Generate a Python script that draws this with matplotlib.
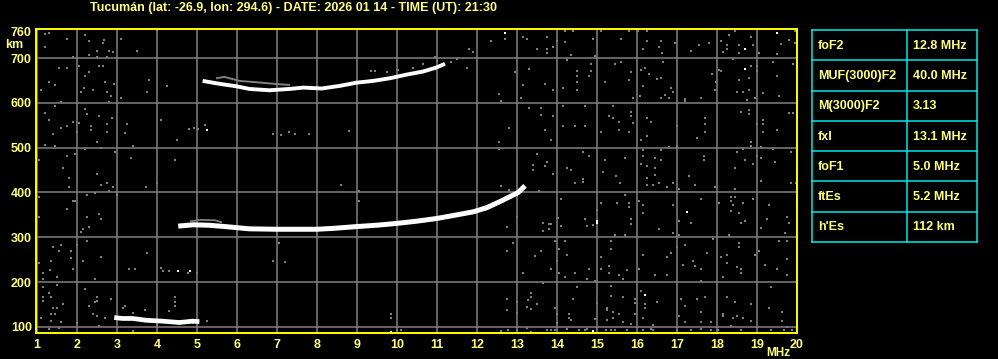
import numpy as np
import matplotlib
matplotlib.use("Agg")
import matplotlib.pyplot as plt

# ---- ionogram data (frequency in MHz, virtual height in km) ----
title = "Tucumán (lat: -26.9, lon: 294.6) - DATE: 2026 01 14 - TIME (UT): 21:30"

# F trace (1st hop)
f1_freq = [4.53, 4.9, 5.3, 5.83, 6.3, 6.99, 7.5, 8.0, 8.41, 8.99, 9.49, 9.99, 10.49,
           10.99, 11.49, 11.91, 12.24, 12.58, 12.83, 13.03, 13.2]
f1_height = [325, 328, 327, 323, 319, 318, 318, 318, 320, 324, 327, 331, 336,
             342, 350, 357, 366, 380, 391, 400, 415]
# thin echo above the start of the F trace
f1x_freq = [4.85, 5.1, 5.45, 5.6]
f1x_height = [336, 339, 338, 334]

# F trace (2nd hop)
f2_freq = [5.14, 5.52, 5.98, 6.31, 6.81, 7.31, 7.66, 8.12, 8.58, 8.99, 9.41, 9.83,
           10.24, 10.66, 10.99, 11.2]
f2_height = [649, 643, 637, 631, 628, 631, 634, 632, 638, 645, 649, 655,
             663, 670, 679, 687]
f2x_freq = [5.5, 5.68, 6.06, 6.48, 6.98, 7.3]
f2x_height = [655, 658, 649, 646, 642, 640]

# sporadic E
es_freq = [2.93, 3.14, 3.39, 3.73, 4.14, 4.56, 4.89, 5.06]
es_height = [121, 119, 119, 115, 113, 110, 113, 112]

# short echo pieces near 225 km and 540 km
es2_freq = [4.1, 4.14, 4.31, 4.77]
es2_height = [232, 226, 225, 221]
blob_freq = [4.81, 4.93, 5.03, 5.2]
blob_height = [542, 544, 542, 551]

# scattered noise (gray)
noise_a = [(1.20, 753), (1.29, 756), (2.20, 751), (1.75, 742), (2.29, 738), (2.68, 740),
           (2.64, 733), (3.10, 742), (1.20, 725), (2.49, 716), (2.79, 716), (2.89, 713),
           (2.29, 707), (1.89, 702), (2.50, 702), (2.74, 702), (3.50, 716), (1.54, 678),
           (1.75, 678), (2.04, 682), (2.54, 682), (2.64, 682), (2.29, 669), (2.20, 660),
           (1.31, 646), (1.44, 640), (2.70, 646), (2.92, 642), (3.79, 651), (4.25, 638),
           (1.10, 629), (2.17, 633), (2.39, 629), (2.10, 624), (2.74, 624), (2.85, 615),
           (3.75, 624), (3.10, 611), (1.60, 602), (2.81, 602), (1.44, 593), (2.20, 586),
           (1.20, 577), (2.24, 575), (2.54, 571), (2.88, 566), (1.29, 562), (2.04, 555),
           (1.89, 557), (2.35, 548), (2.74, 553), (3.25, 553), (1.60, 544), (1.75, 548),
           (2.35, 539), (3.20, 533), (2.74, 535), (1.39, 531), (2.00, 535), (4.10, 562),
           (4.49, 517), (2.50, 513), (1.20, 506), (1.45, 504), (2.20, 497), (2.60, 499),
           (2.95, 490), (3.39, 504), (1.96, 486), (1.75, 481), (1.04, 473), (3.35, 477),
           (4.45, 473), (1.64, 455), (2.50, 441), (1.79, 432), (6.91, 531), (7.10, 528),
           (7.31, 535), (4.0, 762)]
noise_b = [(12.34, 738), (12.70, 742), (13.14, 747), (13.26, 742), (13.49, 720),
           (11.80, 720), (11.89, 714), (12.95, 668), (13.30, 676), (13.14, 640),
           (12.55, 620), (13.09, 611), (12.60, 603), (13.30, 589), (13.60, 589),
           (13.59, 573), (12.80, 544), (7.45, 531), (7.80, 531), (8.80, 538),
           (12.55, 512), (12.55, 497), (13.49, 486), (13.39, 461), (13.39, 450),
           (9.34, 672), (9.45, 670), (9.76, 668), (10.03, 674), (10.39, 678),
           (10.66, 687), (10.95, 702), (10.99, 693), (11.35, 690), (11.49, 698), (11.74, 678)]
noise_c = [(13.74, 747), (14.20, 760), (14.40, 760), (13.99, 738), (14.20, 736), (13.74, 720),
           (13.90, 725), (13.74, 711), (14.34, 707), (14.94, 705), (14.90, 742), (15.61, 742),
           (15.09, 760), (15.80, 760), (16.03, 760), (16.24, 760), (16.24, 738), (16.59, 738),
           (16.55, 725), (16.63, 711), (16.15, 720), (16.95, 734), (17.34, 716), (17.55, 729),
           (17.80, 734), (18.09, 738), (18.30, 751), (18.44, 760), (18.24, 729), (18.24, 720),
           (18.55, 728), (18.84, 747), (18.90, 729), (18.55, 711), (18.16, 714), (19.05, 711),
           (19.49, 709), (19.59, 731), (19.80, 740), (19.95, 734), (19.94, 760),
           (14.24, 696), (14.84, 687), (14.51, 672), (14.84, 670), (14.49, 660), (14.80, 660),
           (14.49, 647), (14.14, 633), (14.49, 629), (13.90, 629), (13.70, 642), (15.44, 687),
           (15.59, 691), (15.84, 669), (15.80, 651), (15.20, 647), (15.90, 611), (16.09, 673),
           (16.19, 678), (16.30, 664), (16.49, 653), (16.59, 655), (16.65, 691), (16.15, 638),
           (16.84, 633), (16.90, 624), (16.70, 618), (16.59, 611), (16.80, 611), (16.08, 616),
           (17.19, 609), (17.19, 603), (17.59, 611), (17.94, 629), (17.98, 646), (17.88, 664),
           (18.09, 670), (18.05, 674), (18.40, 698), (18.84, 682), (18.99, 683), (18.99, 670),
           (18.55, 651), (18.80, 655), (18.49, 624), (18.65, 624), (18.80, 629), (19.15, 623),
           (18.95, 611), (18.74, 606), (19.40, 691), (19.90, 687), (19.51, 660), (19.55, 615),
           (14.14, 593), (14.70, 592), (13.90, 571), (14.14, 548), (14.45, 548), (14.70, 548),
           (13.70, 539), (13.84, 517), (15.40, 593), (15.30, 571), (15.40, 566), (15.55, 557),
           (15.84, 580), (15.84, 571), (15.90, 555), (15.55, 539), (15.80, 535), (15.09, 535),
           (16.24, 566), (16.34, 557), (16.24, 526), (16.09, 517), (16.99, 548), (17.70, 566),
           (17.70, 553), (17.70, 535), (17.49, 522), (18.59, 580), (18.80, 584), (18.80, 575),
           (18.99, 553), (19.15, 562), (19.15, 553), (19.15, 535), (19.49, 539), (19.80, 577),
           (19.90, 577), (18.84, 513), (18.84, 504),
           (16.80, 502), (16.99, 504), (14.65, 490), (14.80, 481), (13.74, 468), (13.70, 459),
           (14.24, 455), (14.34, 450), (13.90, 441), (14.65, 430), (15.20, 473), (15.70, 477),
           (15.15, 446), (15.47, 437), (16.14, 481), (16.14, 495), (16.09, 464), (16.24, 459),
           (16.45, 477), (16.59, 473), (16.45, 455), (16.45, 439), (16.24, 432), (16.59, 495),
           (17.68, 481), (17.68, 473), (17.30, 437), (18.49, 490), (18.65, 497), (18.70, 473),
           (18.90, 464), (18.45, 455), (18.99, 482), (19.10, 477), (19.10, 502), (19.40, 498),
           (19.44, 468), (19.84, 490), (19.99, 441)]
noise_d = [(1.79, 412), (2.60, 417), (2.74, 421), (2.89, 412), (2.79, 403), (3.00, 395),
           (2.24, 395), (2.45, 399), (3.73, 412), (3.99, 421), (1.04, 390), (1.95, 381),
           (1.89, 381), (1.75, 363), (2.54, 352), (2.24, 345), (2.60, 341), (1.04, 345),
           (2.14, 319), (2.10, 312), (2.29, 323), (2.24, 292), (1.39, 279), (1.60, 283),
           (1.54, 270), (1.85, 270), (1.99, 283), (1.85, 254), (2.14, 247), (1.35, 247),
           (1.04, 243), (1.33, 227), (1.14, 221), (1.89, 229), (2.59, 256), (1.14, 207),
           (1.50, 212), (2.45, 207), (3.75, 265), (3.29, 229), (3.45, 229), (1.14, 189),
           (1.50, 194), (1.29, 176), (1.35, 167), (1.14, 167), (1.14, 158), (2.20, 185),
           (2.50, 166), (2.49, 158), (2.85, 163), (1.64, 151), (2.29, 147), (2.45, 156),
           (1.39, 142), (1.50, 142), (1.35, 129), (1.45, 129), (1.10, 120), (1.35, 113),
           (1.60, 111), (1.29, 96), (1.54, 98), (1.99, 109), (2.39, 129), (2.50, 125),
           (2.70, 120), (2.54, 102), (3.20, 147), (3.14, 142), (3.39, 131), (3.70, 138),
           (4.45, 167), (4.45, 156), (4.45, 147), (4.29, 136), (3.39, 91), (3.99, 105),
           (7.04, 287), (6.91, 247), (7.20, 245), (5.00, 221), (5.25, 113), (4.90, 108)]
noise_e = [(8.59, 417), (12.59, 415), (12.80, 406), (13.56, 403), (9.05, 403), (9.05, 381),
           (12.99, 345), (12.74, 323), (12.89, 287), (12.74, 270), (13.45, 258), (13.60, 270),
           (13.64, 331), (13.64, 314), (13.14, 221), (13.64, 198), (13.34, 176), (13.34, 167),
           (13.28, 161), (12.74, 163), (12.99, 156), (13.49, 151), (13.26, 145), (13.34, 140),
           (12.74, 138), (12.99, 131), (9.84, 129), (9.84, 120), (10.10, 93), (10.00, 93),
           (12.59, 91), (12.78, 93), (12.99, 93), (13.24, 98), (13.34, 89)]
noise_f = [(14.45, 421), (14.65, 423), (15.57, 421), (16.24, 417), (16.40, 417), (16.55, 421),
           (16.76, 412), (16.90, 421), (17.05, 408), (17.45, 417), (17.94, 412), (18.44, 408),
           (19.09, 425), (19.84, 421), (19.97, 421),
           (14.09, 386), (15.69, 395), (15.49, 377), (15.80, 377), (15.80, 368), (15.09, 377),
           (14.99, 361), (16.15, 372), (16.15, 354), (16.05, 381), (16.90, 372), (17.59, 386),
           (18.05, 377), (18.34, 390), (18.45, 390), (18.34, 381), (18.40, 372), (18.65, 377),
           (18.90, 386), (18.34, 359), (18.55, 354), (18.69, 337), (18.59, 332), (19.30, 372),
           (19.24, 341), (19.80, 331), (19.99, 368), (19.74, 345), (19.69, 310), (19.09, 321),
           (14.03, 344), (13.80, 329), (13.84, 329), (13.80, 319), (14.09, 325), (14.70, 341),
           (14.74, 325), (14.90, 328), (15.44, 305), (15.69, 305), (15.84, 342), (15.84, 329),
           (16.55, 319), (16.90, 310), (17.05, 337), (17.05, 305), (17.34, 332), (18.30, 305),
           (13.95, 292), (14.20, 292), (14.05, 274), (13.99, 247), (14.24, 261), (13.84, 229),
           (14.05, 221), (14.45, 221), (14.20, 212), (14.80, 229), (14.74, 207), (15.34, 292),
           (15.34, 274), (15.09, 256), (15.30, 236), (15.09, 229), (15.30, 221), (15.55, 216),
           (15.65, 207), (15.74, 227), (16.15, 261), (16.05, 229), (16.45, 216), (16.76, 256),
           (16.84, 265), (16.76, 216), (16.99, 279), (17.20, 283), (17.15, 238), (17.40, 247),
           (17.45, 236), (17.59, 229), (17.74, 265), (17.59, 203), (17.90, 296), (18.09, 256),
           (18.24, 261), (18.24, 243), (18.15, 212), (18.49, 234), (18.59, 229), (18.59, 221),
           (18.55, 287), (18.55, 279), (18.94, 261), (19.05, 270), (19.20, 238), (19.49, 229),
           (19.55, 292), (19.74, 292), (19.74, 252), (19.74, 216), (14.94, 203),
           (14.49, 189), (14.40, 163), (13.95, 142), (13.99, 129), (14.30, 129), (14.30, 120),
           (14.34, 116), (13.99, 109), (15.34, 192), (15.34, 169), (15.65, 167), (15.94, 163),
           (15.94, 154), (14.99, 154), (15.24, 142), (15.24, 138), (15.40, 134), (15.55, 129),
           (15.94, 129), (15.24, 116), (15.40, 120), (14.94, 118), (15.65, 111), (15.84, 107),
           (16.09, 180), (16.20, 151), (16.20, 142), (16.49, 156), (16.15, 120), (16.40, 105),
           (17.09, 163), (17.49, 163), (17.70, 167), (17.20, 147), (17.59, 134), (17.05, 125),
           (17.20, 111), (17.59, 111), (17.84, 111), (18.24, 167), (18.44, 156), (18.84, 151),
           (18.15, 129), (18.15, 125), (18.40, 120), (18.49, 125), (18.65, 120), (18.34, 102),
           (18.84, 113), (19.34, 189), (19.30, 142), (19.63, 134), (19.63, 113), (19.74, 100),
           (13.74, 93), (13.84, 93), (13.95, 93), (14.24, 95), (14.55, 94), (14.69, 93),
           (14.74, 95), (15.22, 93), (15.34, 94), (15.44, 93), (15.76, 93), (16.15, 94),
           (16.34, 95), (16.40, 93), (16.99, 94), (17.34, 93), (17.59, 95), (17.84, 93),
           (18.03, 94), (18.59, 93), (19.34, 93), (19.67, 94), (19.88, 93)]
# isolated bright dots
white_dots = [(18.69, 720), (18.69, 676), (12.70, 756), (19.49, 755), (17.24, 357),
              (14.99, 337), (14.99, 333), (16.20, 171), (14.90, 90), (9.84, 89),
              (4.52, 224), (4.83, 224), (5.24, 539)]

# ---- table ----
param_names = ["foF2", "MUF(3000)F2", "M(3000)F2", "fxI", "foF1", "ftEs", "h'Es"]
param_values = ["12.8 MHz", "40.0 MHz", "3.13", "13.1 MHz", "5.0 MHz", "5.2 MHz", "112 km"]

x_ticks = list(range(1, 21))
y_ticks = [100, 200, 300, 400, 500, 600, 700, 760]

# ---- style ----
BG = "black"
TXT = "#ffff80"
EDGE = "#ffff00"
GRID = "#808080"
CYAN = "#00e8e8"
FONT = "Liberation Sans"

fig = plt.figure(figsize=(9.98, 3.59), dpi=100, facecolor=BG)
W, H = 998, 359
ax = fig.add_axes([36 / W, 1 - 333 / H, 761 / W, 304 / H], facecolor=BG)
ax.set_xlim(0.975, 20)
ax.set_ylim(86.6, 764.7)

ax.set_xticks(x_ticks)
ax.set_xticklabels([str(v) for v in x_ticks])
ax.set_yticks(y_ticks)
ax.set_yticklabels([str(v) for v in y_ticks])
ax.tick_params(length=0, colors=TXT, labelsize=9)
ax.tick_params(axis="x", pad=4)
ax.tick_params(axis="y", pad=3)
for lab in ax.get_xticklabels() + ax.get_yticklabels():
    lab.set_fontweight("bold")
    lab.set_fontfamily(FONT)
ax.grid(True, color=GRID, lw=1.1)
ax.yaxis.get_gridlines()[-1].set_visible(False)
for sp in ax.spines.values():
    sp.set_color(EDGE)
    sp.set_linewidth(1.4)
    sp.set_zorder(5)

def dots(pts, color, ms=1.8):
    a = np.array(pts)
    ax.plot(a[:, 0], a[:, 1], "s", ms=ms, mew=0, color=color, zorder=3)

for group in [noise_a, noise_b, noise_c, noise_d, noise_e, noise_f]:
    dots(group, GRID)
dots(list(zip(es2_freq, es2_height)), GRID)
dots(list(zip(blob_freq, blob_height)), GRID)
dots(white_dots, "white", ms=2.0)

ax.plot(f1x_freq, f1x_height, color=GRID, lw=1.3, zorder=3)
ax.plot(f1_freq, f1_height, color="white", lw=3.6, zorder=4, solid_capstyle="butt")
ax.plot(f2x_freq, f2x_height, color=GRID, lw=1.4, zorder=3)
ax.plot(f2_freq, f2_height, color="white", lw=2.8, zorder=4, solid_capstyle="butt")
ax.plot(es_freq, es_height, color="white", lw=3.4, zorder=4, solid_capstyle="butt")

fig.text(294 / W, 1 - 7.5 / H, title, color=TXT, fontsize=9, fontweight="bold",
         family=FONT, ha="center", va="center")
fig.text(5 / W, 1 - 45 / H, "km", color=TXT, fontsize=9, fontweight="bold",
         family=FONT, ha="left", va="center")
fig.text(790 / W, 1 - 353 / H, "MHz", color=TXT, fontsize=8.5, fontweight="bold",
         family=FONT, ha="right", va="center")

# parameter table
tx = fig.add_axes([812 / W, 1 - 242 / H, 165 / W, 212 / H], facecolor=BG)
tx.set_xlim(0, 1)
tx.set_ylim(len(param_names), 0)
tx.axis("off")
split = 95 / 165
for i in range(len(param_names) + 1):
    tx.plot([0, 1], [i, i], color=CYAN, lw=1.1, clip_on=False)
for xv in [0, split, 1]:
    tx.plot([xv, xv], [0, len(param_names)], color=CYAN, lw=1.1, clip_on=False)
for i, (nm, val) in enumerate(zip(param_names, param_values)):
    tx.text(6 / 165, i + 0.52, nm, color=TXT, fontsize=9, fontweight="bold",
            family=FONT, ha="left", va="center")
    tx.text(split + 6 / 165, i + 0.52, val, color=TXT, fontsize=9, fontweight="bold",
            family=FONT, ha="left", va="center")

fig.savefig("out.png", dpi=100, facecolor=BG)
